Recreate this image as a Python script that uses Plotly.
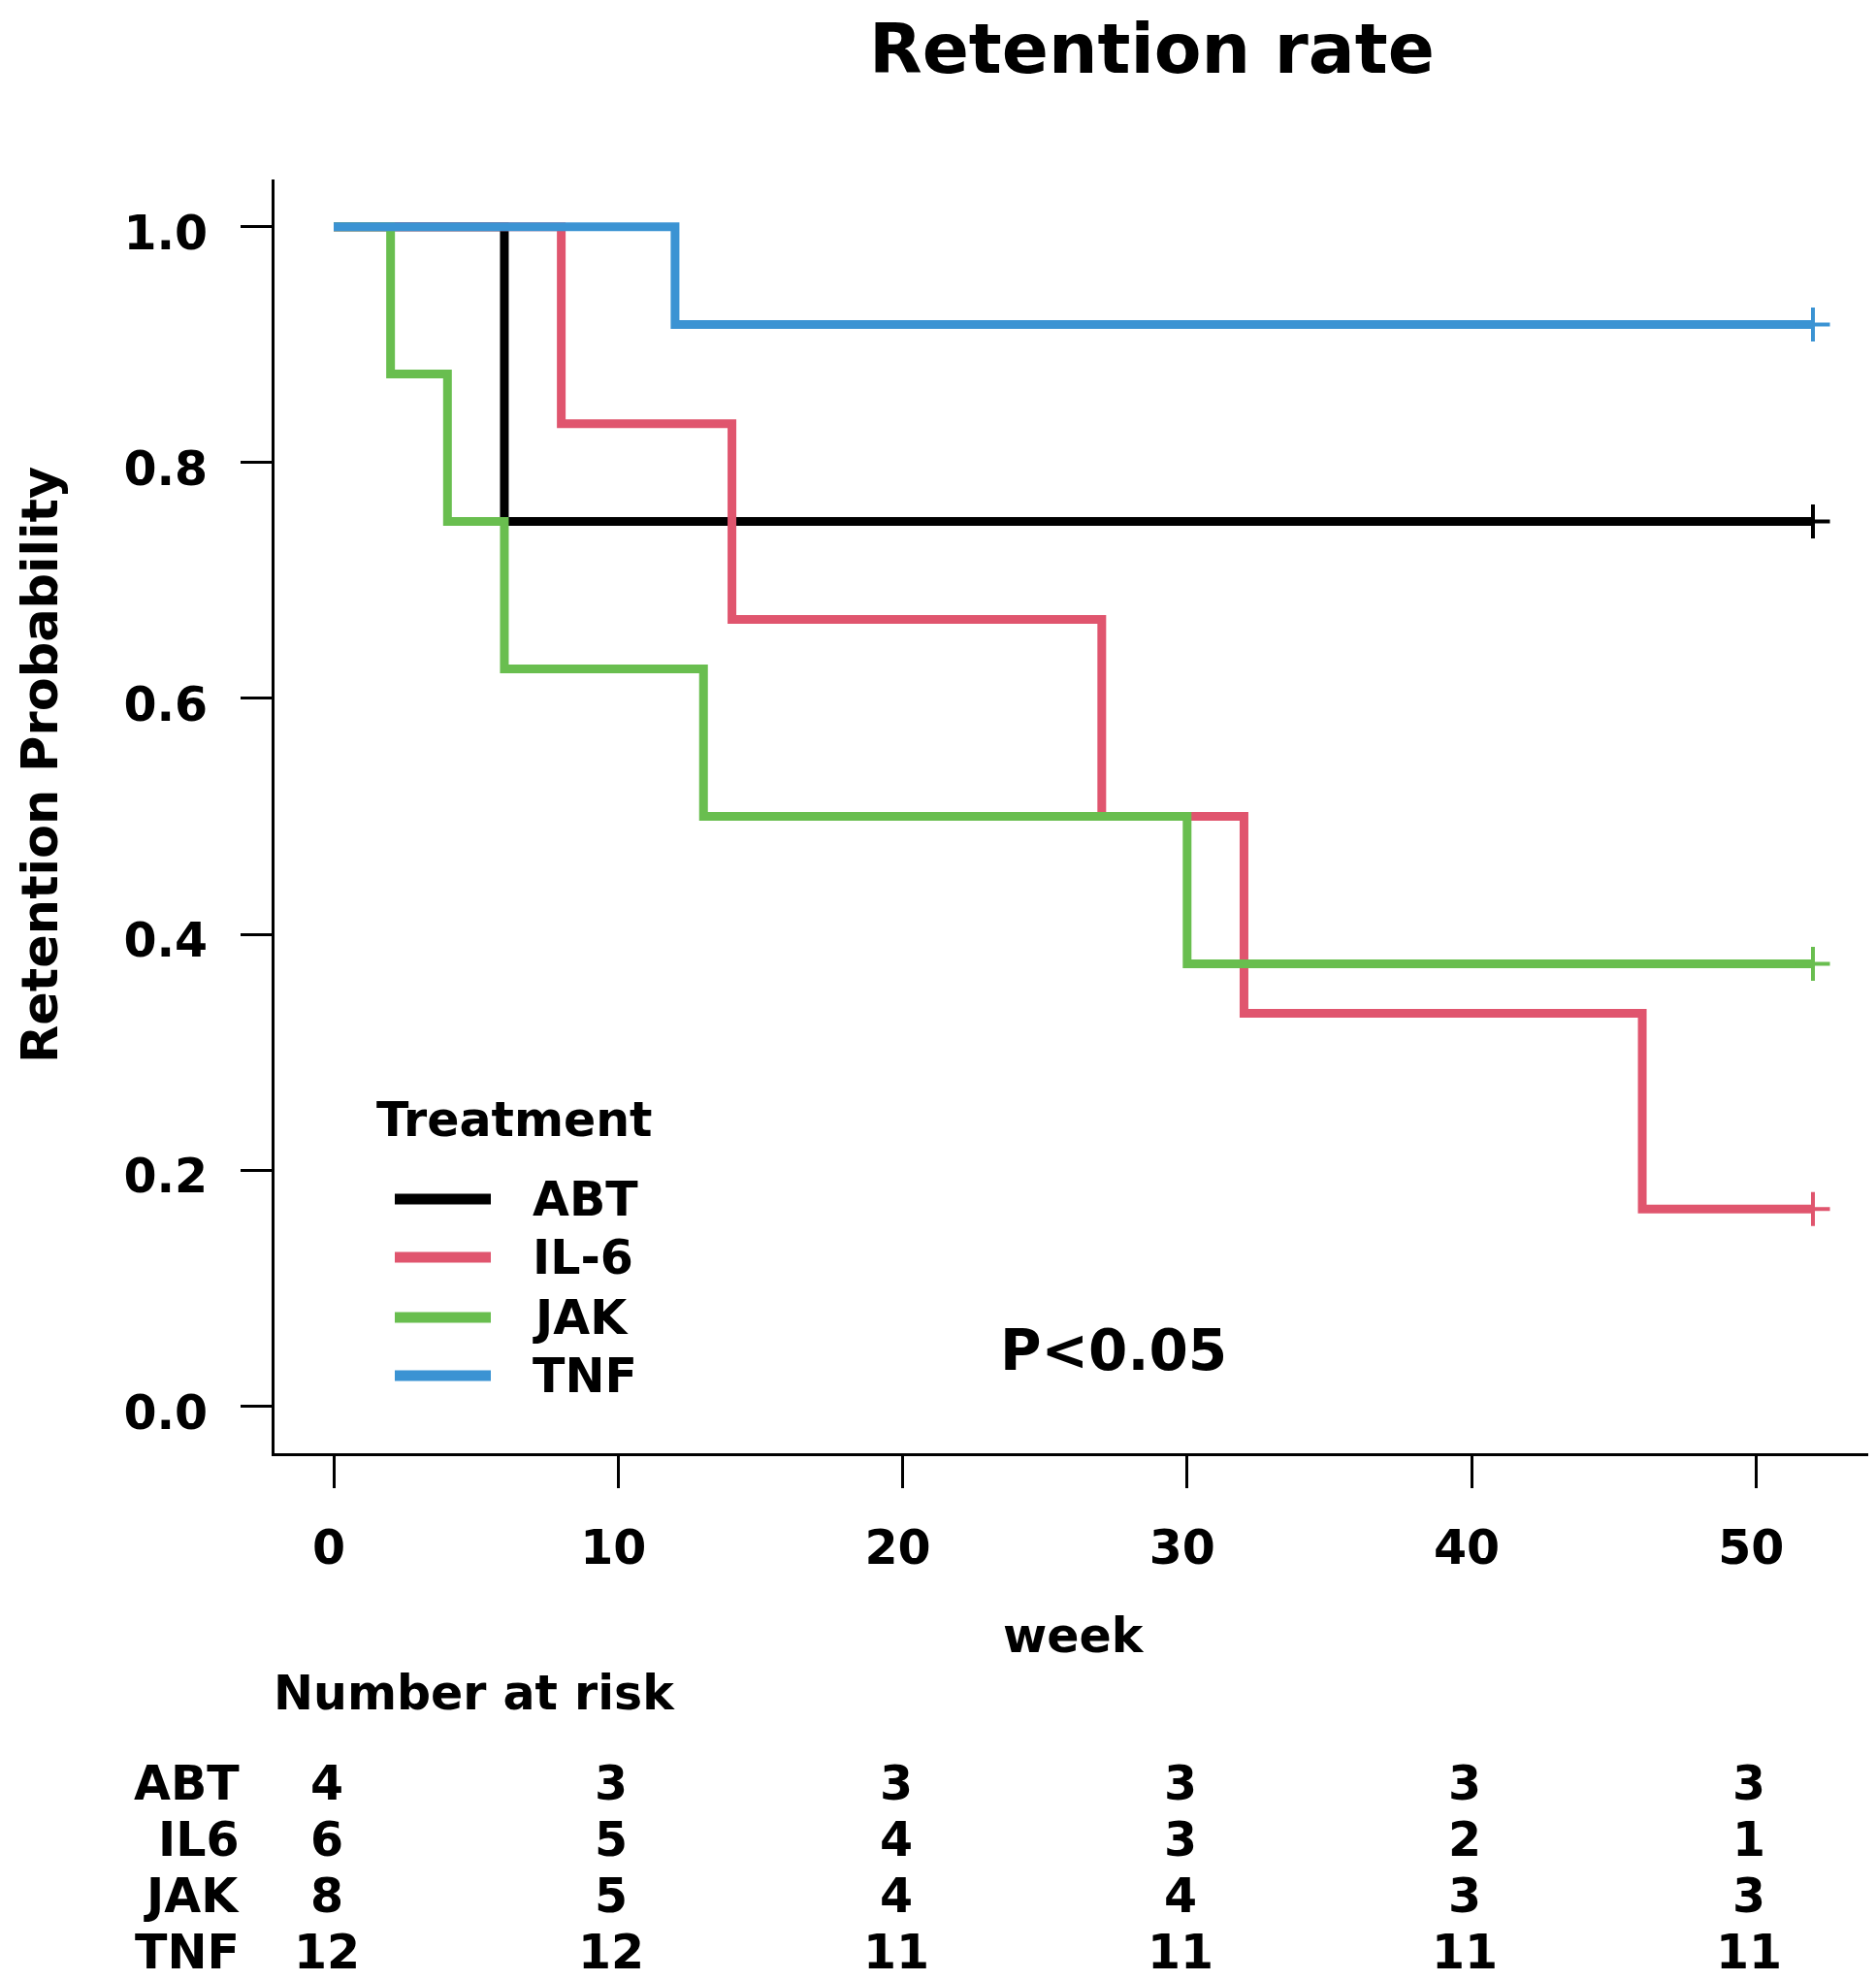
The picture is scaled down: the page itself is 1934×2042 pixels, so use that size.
import plotly.graph_objects as go

# ---------------- data ----------------
groups = ["ABT", "IL-6", "JAK", "TNF"]
risk_labels = ["ABT", "IL6", "JAK", "TNF"]
colors = ["#000000", "#E0556E", "#69BE4F", "#3B93D3"]

abt_t = [0, 6, 52]
abt_s = [1.0, 0.75, 0.75]
il6_t = [0, 8, 14, 27, 32, 46, 52]
il6_s = [1.0, 0.833, 0.667, 0.5, 0.333, 0.167, 0.167]
jak_t = [0, 2, 4, 6, 13, 30, 52]
jak_s = [1.0, 0.875, 0.75, 0.625, 0.5, 0.375, 0.375]
tnf_t = [0, 12, 52]
tnf_s = [1.0, 0.917, 0.917]

risk_times = [0, 10, 20, 30, 40, 50]
risk_abt = [4, 3, 3, 3, 3, 3]
risk_il6 = [6, 5, 4, 3, 2, 1]
risk_jak = [8, 5, 4, 4, 3, 3]
risk_tnf = [12, 12, 11, 11, 11, 11]

y_ticks = [0.0, 0.2, 0.4, 0.6, 0.8, 1.0]
x_ticks = [0, 10, 20, 30, 40, 50]

title_text = "Retention rate"
x_title = "week"
y_title = "Retention Probability"
legend_title = "Treatment"
p_text = "P<0.05"
risk_title = "Number at risk"

# ---------------- layout geometry (reference pixel coordinates) ----------------
WIN_W, WIN_H = 1934, 2042
OFF = 8  # page body margin
W, H = WIN_W - OFF, WIN_H - OFF
PL, PR, PT, PB = 283, 1930, 185, 1498
FONT = "DejaVu Sans"
FS = 49


def px(x):
    return (x - PL) / (PR - PL)


def py(y):
    return (PB - y) / (PB - PT)


def bold(size):
    return dict(family=FONT, size=size, color="black", weight="bold")


times = [abt_t, il6_t, jak_t, tnf_t]
survs = [abt_s, il6_s, jak_s, tnf_s]
risks = [risk_abt, risk_il6, risk_jak, risk_tnf]

fig = go.Figure()
for name, t, s, c in zip(groups, times, survs, colors):
    fig.add_trace(go.Scatter(
        x=t, y=s, mode="lines", name=name, line=dict(color=c, width=9, shape="hv"),
        showlegend=False, hoverinfo="skip"))
for name, t, s, c in zip(groups, times, survs, colors):
    fig.add_trace(go.Scatter(
        x=[t[-1]], y=[s[-1]], mode="markers", name=name + " censored",
        marker=dict(symbol="cross-thin", size=25, line=dict(color=c, width=4)),
        showlegend=False, hoverinfo="skip"))

annotations = []
annotations.append(dict(text=title_text, x=px(1187), y=py(50), xref="paper", yref="paper",
                        xanchor="center", yanchor="middle", showarrow=False, font=bold(71)))
annotations.append(dict(text=x_title, x=px(1107), y=py(1686), xref="paper", yref="paper",
                        xanchor="center", yanchor="middle", showarrow=False, font=bold(FS)))
annotations.append(dict(text=y_title, x=px(41), y=py(789), xref="paper", yref="paper",
                        xanchor="center", yanchor="middle", showarrow=False, textangle=-90,
                        font=bold(51)))
annotations.append(dict(text=p_text, x=px(1148), y=py(1392), xref="paper", yref="paper",
                        xanchor="center", yanchor="middle", showarrow=False, font=bold(58)))
# legend (drawn by hand so the key lines match the reference length)
annotations.append(dict(text=legend_title, x=px(386), y=py(1154), xref="paper", yref="paper",
                        xanchor="left", yanchor="middle", showarrow=False, font=bold(FS)))
legend_rows = [1236, 1296, 1358, 1418]
shapes = []
for name, c, ry in zip(groups, colors, legend_rows):
    shapes.append(dict(type="line", xref="paper", yref="paper", x0=px(407), x1=px(506),
                       y0=py(ry), y1=py(ry), line=dict(color=c, width=11)))
    annotations.append(dict(text=name, x=px(547), y=py(ry), xref="paper", yref="paper",
                            xanchor="left", yanchor="middle", showarrow=False, font=bold(FS)))
# number at risk table
annotations.append(dict(text=risk_title, x=px(280), y=py(1746), xref="paper", yref="paper",
                        xanchor="left", yanchor="middle", showarrow=False, font=bold(FS)))
risk_rows = [1838, 1896, 1954, 2012]
for lab, vals, ry in zip(risk_labels, risks, risk_rows):
    annotations.append(dict(text=lab, x=px(249), y=py(ry), xref="paper", yref="paper",
                            xanchor="right", yanchor="middle", showarrow=False, font=bold(FS)))
    for t, v in zip(risk_times, vals):
        annotations.append(dict(text=str(v), x=t, y=py(ry), xref="x", yref="paper",
                                xanchor="center", yanchor="middle", showarrow=False, xshift=-7,
                                font=bold(FS)))

fig.update_layout(
    width=W, height=H,
    margin=dict(l=PL - OFF, r=W - (PR - OFF), t=PT - OFF, b=H - (PB - OFF), autoexpand=False),
    paper_bgcolor="white", plot_bgcolor="white",
    showlegend=False,
    annotations=annotations, shapes=shapes,
    xaxis=dict(range=[-2.08, 54.08], tickvals=x_ticks, ticks="outside", ticklen=33, tickwidth=3,
               tickcolor="black", showline=True, linewidth=3, linecolor="black", showgrid=False,
               zeroline=False, ticklabelstandoff=19, ticklabelshift=-5, tickfont=bold(FS)),
    yaxis=dict(range=[-0.04, 1.04], tickvals=y_ticks, tickformat=".1f", ticks="outside", ticklen=32,
               tickwidth=3, tickcolor="black", showline=True, linewidth=3, linecolor="black",
               showgrid=False, zeroline=False, ticklabelstandoff=24, ticklabelshift=6,
               tickfont=bold(FS)),
)

fig.write_html("out.html")
